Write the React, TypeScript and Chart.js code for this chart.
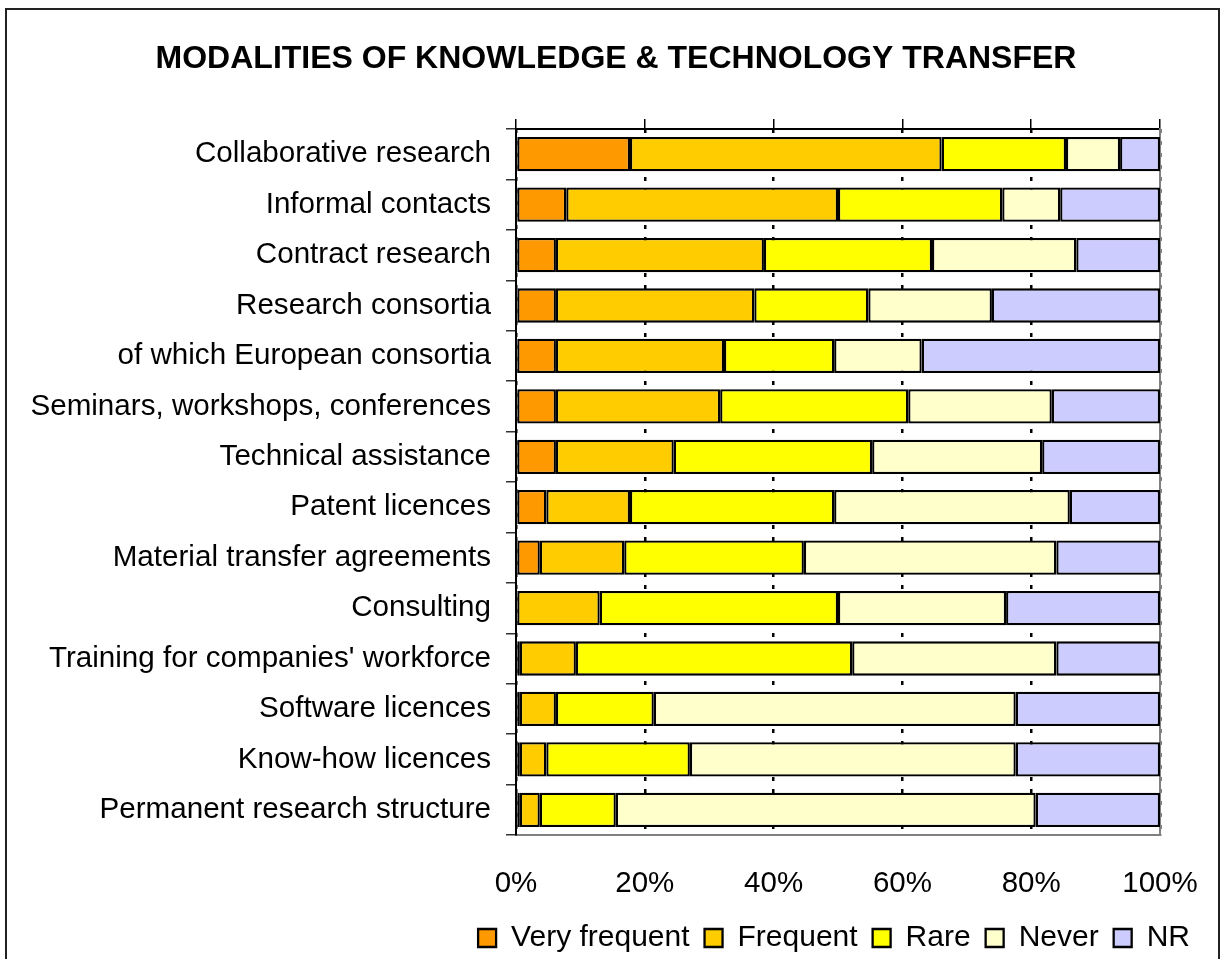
import React, { useEffect, useRef } from 'react';
import { Chart, registerables } from 'chart.js';

Chart.register(...registerables);

const chartTitle = 'MODALITIES OF KNOWLEDGE & TECHNOLOGY TRANSFER';

const categories = [
  'Collaborative research',
  'Informal contacts',
  'Contract research',
  'Research consortia',
  'of which European consortia',
  'Seminars, workshops, conferences',
  'Technical assistance',
  'Patent licences',
  'Material transfer agreements',
  'Consulting',
  "Training for companies' workforce",
  'Software licences',
  'Know-how licences',
  'Permanent research structure',
];

const veryFrequent = [17.7, 7.8, 6.2, 6.2, 6.2, 6.2, 6.2, 4.7, 3.7, 0, 0.6, 0.6, 0.6, 0.6];
const frequent = [48.4, 42.2, 32.3, 30.8, 26.1, 25.5, 18.3, 13.0, 13.1, 13.0, 8.7, 5.6, 4.1, 3.1];
const rare = [19.3, 25.5, 26.1, 17.7, 17.1, 29.2, 30.8, 31.7, 27.9, 37.0, 42.9, 15.2, 22.3, 11.8];
const never = [8.4, 9.0, 22.4, 19.2, 13.6, 22.3, 26.4, 36.6, 39.2, 26.1, 31.7, 56.2, 50.6, 65.2];
const noReply = [6.2, 15.5, 13.0, 26.1, 37.0, 16.8, 18.3, 14.0, 16.1, 23.9, 16.1, 22.4, 22.4, 19.3];

const seriesNames = ['Very frequent', 'Frequent', 'Rare', 'Never', 'NR'];
const seriesValues = [veryFrequent, frequent, rare, never, noReply];
const seriesColors = ['#FF9900', '#FFCC00', '#FFFF00', '#FFFFCC', '#CCCCFF'];

const xMin = 0;
const xMax = 100;
const xStep = 20;

const FONT = '"Liberation Sans", Arial, sans-serif';

export default function App() {
  const ref = useRef<HTMLCanvasElement>(null);

  useEffect(() => {
    if (!ref.current) return;
    const chart = new Chart(ref.current, {
      type: 'bar',
      data: {
        labels: categories,
        datasets: seriesNames.map((name, i) => ({
          label: name,
          data: seriesValues[i],
          backgroundColor: seriesColors[i],
          borderColor: '#000000',
          borderWidth: 2.3,
          borderSkipped: false,
          barPercentage: 0.68,
          categoryPercentage: 1,
          xAxisID: 'x',
          yAxisID: 'y',
        })),
      },
      options: {
        animation: false,
        responsive: false,
        indexAxis: 'y',
        layout: { autoPadding: false, padding: { left: 27, right: 18, top: 0, bottom: 17 } },
        plugins: {
          title: {
            display: true,
            text: chartTitle,
            color: '#000',
            font: { family: FONT, size: 32, weight: 'bold' },
            padding: { top: 39.5, bottom: 41.1 },
          },
          legend: {
            position: 'bottom',
            align: 'end',
            labels: {
              boxWidth: 18,
              boxHeight: 18,
              padding: 15,
              color: '#000',
              font: { family: FONT, size: 30 },
            },
          },
          tooltip: { enabled: false },
        },
        scales: {
          x: {
            type: 'linear',
            position: 'bottom',
            stacked: true,
            min: xMin,
            max: xMax,
            ticks: {
              stepSize: xStep,
              padding: 31,
              color: '#000',
              font: { family: FONT, size: 29.5 },
              callback: (v: any) => `${v}%`,
            },
            grid: {
              display: true,
              drawOnChartArea: true,
              drawTicks: false,
              color: '#000',
              lineWidth: 2.5,
            },
            border: { display: true, color: '#808080', width: 2, dash: [4, 8] },
            afterFit: (s: any) => {
              s.height = 73;
              s.paddingLeft = 0;
              s.paddingRight = 0;
            },
          },
          x2: {
            type: 'linear',
            position: 'top',
            min: xMin,
            max: xMax,
            ticks: { stepSize: xStep, display: false },
            grid: {
              display: true,
              drawOnChartArea: false,
              drawTicks: true,
              tickLength: 10,
              color: '#000',
              lineWidth: 1.5,
            },
            border: { display: true, color: '#000', width: 2 },
            afterFit: (s: any) => {
              s.height = 10;
              s.paddingLeft = 0;
              s.paddingRight = 0;
            },
          },
          y: {
            type: 'category',
            position: 'left',
            stacked: true,
            ticks: {
              padding: 15,
              color: '#000',
              font: { family: FONT, size: 29.6 },
            },
            grid: {
              display: true,
              offset: true,
              drawOnChartArea: false,
              drawTicks: true,
              tickLength: 10,
              color: '#333',
              lineWidth: 1.5,
            },
            border: { display: true, color: '#000', width: 2 },
            afterFit: (s: any) => {
              s.width = 489;
              s.paddingTop = 0;
              s.paddingBottom = 0;
            },
          },
          y2: {
            type: 'category',
            position: 'right',
            ticks: { display: false },
            grid: { display: false, drawTicks: false },
            border: { display: true, color: '#808080', width: 2 },
            afterFit: (s: any) => {
              s.width = 45;
              s.paddingTop = 0;
              s.paddingBottom = 0;
            },
          },
        },
      } as any,
    });
    return () => chart.destroy();
  }, []);

  return (
    <div
      style={{
        position: 'absolute',
        left: 0,
        top: 0,
        width: 1223,
        height: 959,
        overflow: 'hidden',
        background: '#fff',
      }}
    >
      <div
        style={{
          position: 'absolute',
          left: 5,
          top: 8,
          width: 1211,
          height: 1000,
          border: '2px solid #222',
        }}
      />
      <canvas
        ref={ref}
        width={1223}
        height={980}
        style={{ position: 'absolute', left: 0, top: 0, width: 1223, height: 980 }}
      />
    </div>
  );
}
